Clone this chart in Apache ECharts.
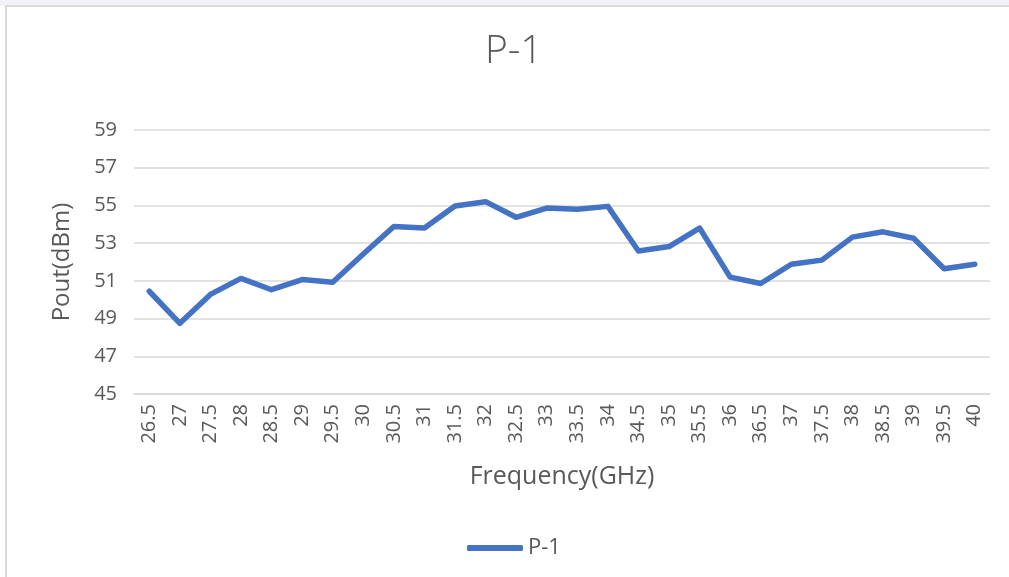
<!DOCTYPE html>
<html>
<head>
<meta charset="utf-8">
<script src="https://cdn.jsdelivr.net/npm/echarts@6/dist/echarts.min.js"></script>
<style>
html,body{margin:0;padding:0;background:#fff;}
#chart{width:1009px;height:577px;}
</style>
</head>
<body>
<div id="chart"></div>
<script>
const categories = ['26.5','27','27.5','28','28.5','29','29.5','30','30.5','31','31.5','32','32.5','33','33.5','34','34.5','35','35.5','36','36.5','37','37.5','38','38.5','39','39.5','40'];
const p1Values = [50.45,48.75,50.28,51.13,50.53,51.07,50.93,52.42,53.88,53.8,54.97,55.2,54.37,54.86,54.8,54.95,52.58,52.82,53.8,51.2,50.86,51.88,52.1,53.32,53.6,53.26,51.64,51.88];
const yTicks = {min:45, max:59, interval:2};

const font = '"Open Sans", sans-serif';
const chart = echarts.init(document.getElementById('chart'), null, {renderer:'canvas'});
chart.setOption({
  backgroundColor:'#ffffff',
  animation:false,
  graphic:[
    {type:'rect', shape:{x:0,y:0,width:1009,height:6}, style:{fill:'#f1f2f6'}, silent:true},
    {type:'rect', shape:{x:6,y:6,width:1020,height:590}, style:{fill:'none', stroke:'#d9d9d9', lineWidth:2}, silent:true}
  ],
  title:{
    text:'P-1', left:480, top:27,
    textStyle:{fontSize:39, fontWeight:300, color:'#595959', fontFamily:font}
  },
  legend:{
    bottom:13, left:462,
    itemWidth:56, itemHeight:6, itemGap:8,
    icon:'roundRect',
    textStyle:{fontSize:22, color:'#595959', fontFamily:font},
    data:['P-1']
  },
  grid:{left:134, right:19, top:130, bottom:183, containLabel:false},
  xAxis:{
    type:'category', data:categories, boundaryGap:true,
    name:'Frequency(GHz)', nameLocation:'middle', nameGap:70,
    nameTextStyle:{fontSize:25, color:'#595959', fontFamily:font},
    axisLine:{show:true, lineStyle:{color:'#d9d9d9', width:1.5}},
    axisTick:{show:false},
    axisLabel:{rotate:90, fontSize:20, color:'#595959', margin:10, interval:0, fontFamily:font}
  },
  yAxis:{
    type:'value', min:yTicks.min, max:yTicks.max, interval:yTicks.interval,
    name:'Pout(dBm)', nameLocation:'middle', nameGap:60,
    nameTextStyle:{fontSize:24, color:'#595959', fontFamily:font},
    axisLine:{show:false}, axisTick:{show:false},
    axisLabel:{fontSize:20, color:'#595959', margin:17, fontFamily:font},
    splitLine:{lineStyle:{color:'#d9d9d9', width:1.5}}
  },
  series:[{
    name:'P-1', type:'line', data:p1Values,
    symbol:'none', smooth:false,
    lineStyle:{color:'#4472C4', width:5.5, cap:'round', join:'round'},
    itemStyle:{color:'#4472C4'}
  }]
});
</script>
</body>
</html>
